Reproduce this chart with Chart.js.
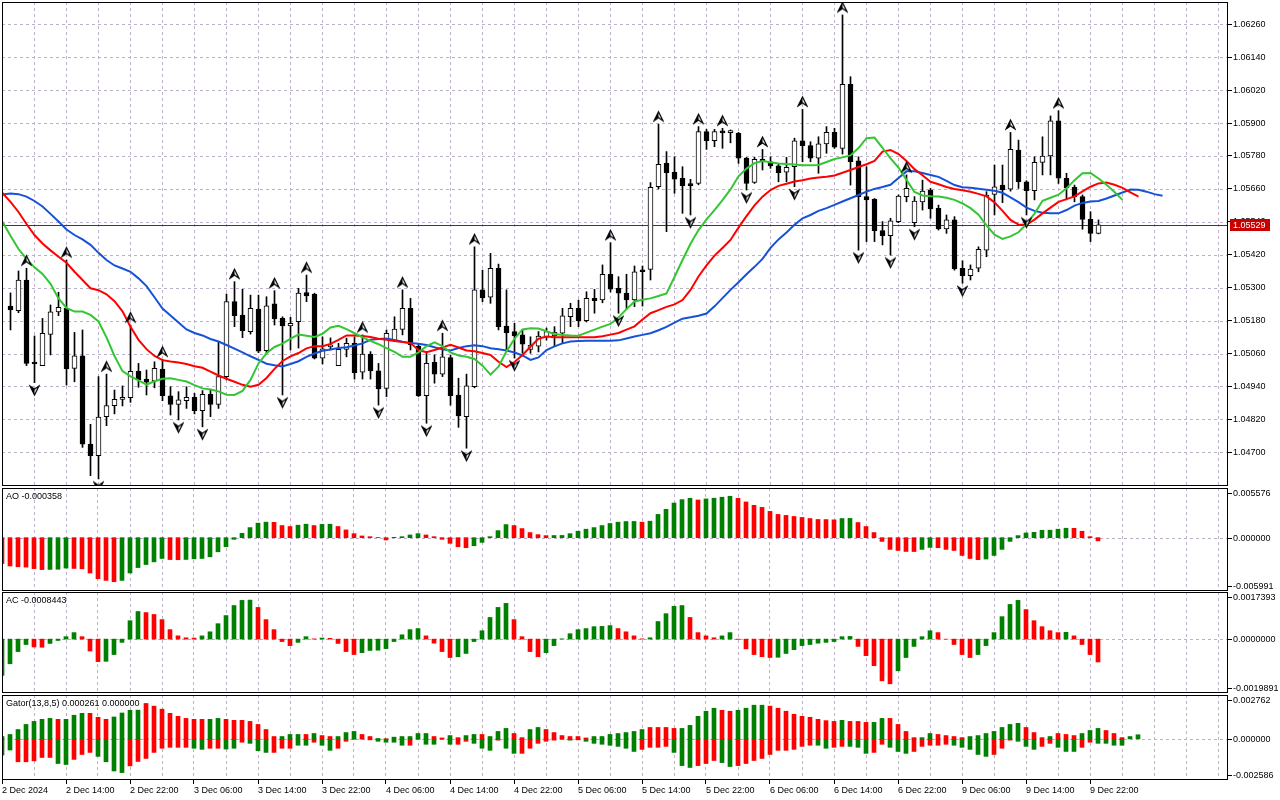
<!DOCTYPE html>
<html>
<head>
<meta charset="utf-8">
<title>EURUSD H1 - Alligator, Fractals, AO, AC, Gator</title>
<script src="https://cdn.jsdelivr.net/npm/chart.js@4.4.1/dist/chart.umd.min.js"></script>
<style>
  html, body { margin:0; padding:0; background:#ffffff; }
  body { width:1280px; height:800px; position:relative; overflow:hidden; }
  .pane { position:absolute; left:0; width:1280px; }
  .pane canvas { display:block; }
</style>
</head>
<body>
<div class="pane" style="top:2px;height:484px"><canvas id="mainChart"></canvas></div>
<div class="pane" style="top:488px;height:103px"><canvas id="aoChart"></canvas></div>
<div class="pane" style="top:592px;height:101px"><canvas id="acChart"></canvas></div>
<div class="pane" style="top:695px;height:105px"><canvas id="gatorChart"></canvas></div>
<script>
// ---------------- DATA ----------------
// H1 bars; bar 0 = 2 Dec 06:00. Candles visible from bar 1.
const FIRST_CANDLE_BAR = 1;
const opens = [1.05233,1.05216,1.05328,1.05026,1.05016,1.05130,1.05212,1.05225,1.05006,1.05052,
1.04730,1.04688,1.04830,1.04870,1.04893,1.04899,1.04995,1.04967,1.04960,1.05003,
1.04906,1.04875,1.04888,1.04900,1.04852,1.04911,1.04875,1.04976,1.05249,1.05200,
1.05140,1.05222,1.05070,1.05241,1.05188,1.05161,1.05176,1.05282,1.05277,1.05043,
1.05084,1.05016,1.05075,1.05097,1.04992,1.05058,1.04997,1.04933,1.05107,1.05148,
1.05225,1.05087,1.04906,1.05028,1.04985,1.05045,1.04909,1.04830,1.04939,1.05292,
1.05265,1.05371,1.05160,1.05140,1.05128,1.05075,1.05087,1.05121,1.05124,1.05134,
1.05194,1.05225,1.05180,1.05261,1.05255,1.05349,1.05298,1.05280,1.05255,1.05364,
1.05367,1.05668,1.05753,1.05721,1.05699,1.05677,1.05680,1.05869,1.05836,1.05865,
1.05865,1.05863,1.05772,1.05684,1.05768,1.05759,1.05744,1.05721,1.05741,1.05835,
1.05818,1.05772,1.05824,1.05866,1.05808,1.06041,1.05762,1.05632,1.05623,1.05508,
1.05490,1.05541,1.05632,1.05537,1.05613,1.05656,1.05589,1.05514,1.05547,1.05371,
1.05344,1.05371,1.05437,1.05640,1.05674,1.05659,1.05802,1.05686,1.05654,1.05757,
1.05780,1.05908,1.05699,1.05666,1.05632,1.05549,1.05498];
const highs = [1.05281,1.05361,1.05371,1.05124,1.05188,1.05237,1.05283,1.05401,1.05137,1.05146,
1.04802,1.04976,1.04985,1.04927,1.04942,1.05164,1.05024,1.05000,1.05030,1.05039,
1.04939,1.04921,1.04939,1.04915,1.04925,1.04930,1.05103,1.05277,1.05322,1.05294,
1.05273,1.05273,1.05267,1.05289,1.05194,1.05192,1.05298,1.05346,1.05280,1.05121,
1.05117,1.05097,1.05116,1.05121,1.05128,1.05067,1.05024,1.05146,1.05194,1.05292,
1.05261,1.05097,1.05067,1.05055,1.05134,1.05055,1.04970,1.04985,1.05449,1.05364,
1.05425,1.05386,1.05292,1.05170,1.05146,1.05121,1.05140,1.05153,1.05158,1.05225,
1.05243,1.05255,1.05285,1.05294,1.05383,1.05464,1.05340,1.05349,1.05379,1.05379,
1.05683,1.05896,1.05796,1.05777,1.05741,1.05695,1.05887,1.05877,1.05877,1.05881,
1.05875,1.05866,1.05775,1.05775,1.05804,1.05777,1.05753,1.05775,1.05845,1.05950,
1.05832,1.05850,1.05887,1.05881,1.06294,1.06069,1.05777,1.05741,1.05625,1.05541,
1.05553,1.05638,1.05711,1.05632,1.05692,1.05662,1.05601,1.05565,1.05559,1.05398,
1.05383,1.05449,1.05650,1.05747,1.05747,1.05866,1.05838,1.05690,1.05777,1.05850,
1.05926,1.05945,1.05717,1.05674,1.05638,1.05577,1.05547];
const lows = [1.05146,1.05209,1.05016,1.04954,1.05016,1.05055,1.05198,1.04945,1.04957,1.04718,
1.04615,1.04603,1.04797,1.04840,1.04869,1.04882,1.04937,1.04909,1.04935,1.04888,
1.04836,1.04818,1.04860,1.04840,1.04793,1.04830,1.04860,1.04964,1.05158,1.05118,
1.05131,1.05063,1.05061,1.05164,1.04909,1.05073,1.05080,1.05249,1.05040,1.05022,
1.05073,1.05016,1.05048,1.04967,1.04967,1.04967,1.04872,1.04903,1.05103,1.05128,
1.05073,1.04903,1.04806,1.04952,1.04976,1.04872,1.04791,1.04715,1.04935,1.05249,
1.05243,1.05146,1.05073,1.05044,1.05061,1.05061,1.05066,1.05109,1.05085,1.05097,
1.05158,1.05158,1.05175,1.05207,1.05245,1.05284,1.05207,1.05221,1.05231,1.05233,
1.05328,1.05660,1.05504,1.05644,1.05571,1.05565,1.05675,1.05804,1.05814,1.05808,
1.05828,1.05753,1.05656,1.05680,1.05729,1.05735,1.05686,1.05686,1.05668,1.05759,
1.05759,1.05717,1.05790,1.05808,1.05787,1.05674,1.05437,1.05468,1.05468,1.05456,
1.05419,1.05537,1.05613,1.05522,1.05583,1.05553,1.05510,1.05498,1.05364,1.05316,
1.05328,1.05358,1.05413,1.05565,1.05610,1.05652,1.05662,1.05565,1.05620,1.05711,
1.05711,1.05680,1.05620,1.05613,1.05513,1.05468,1.05496];
const closes = [1.05219,1.05328,1.05024,1.05022,1.05134,1.05212,1.05228,1.05004,1.05052,1.04730,
1.04688,1.04828,1.04870,1.04893,1.04900,1.04995,1.04964,1.04956,1.05006,1.04906,
1.04875,1.04891,1.04900,1.04852,1.04911,1.04875,1.04976,1.05249,1.05198,1.05143,
1.05225,1.05069,1.05234,1.05186,1.05161,1.05170,1.05280,1.05270,1.05043,1.05077,
1.05091,1.05075,1.05097,1.04990,1.05058,1.04997,1.04931,1.05134,1.05149,1.05225,
1.05091,1.04906,1.05024,1.04985,1.05048,1.04906,1.04833,1.04942,1.05292,1.05263,
1.05371,1.05158,1.05136,1.05124,1.05094,1.05091,1.05124,1.05140,1.05138,1.05197,
1.05225,1.05180,1.05261,1.05253,1.05349,1.05295,1.05280,1.05255,1.05358,1.05358,
1.05666,1.05750,1.05719,1.05696,1.05672,1.05672,1.05869,1.05836,1.05869,1.05864,
1.05867,1.05772,1.05680,1.05768,1.05759,1.05744,1.05719,1.05739,1.05835,1.05818,
1.05772,1.05824,1.05866,1.05812,1.06041,1.05759,1.05632,1.05620,1.05508,1.05490,
1.05544,1.05634,1.05662,1.05616,1.05652,1.05587,1.05514,1.05547,1.05368,1.05344,
1.05368,1.05440,1.05638,1.05668,1.05656,1.05804,1.05686,1.05654,1.05757,1.05780,
1.05908,1.05699,1.05664,1.05632,1.05549,1.05498,1.05529];
const lastPrice = 1.05529;

// Alligator (already shifted forward), starting at bar 0
const jaw = [1.05640,1.05643,1.05641,1.05632,1.05616,1.05596,1.05569,1.05541,1.05512,1.05492,
1.05476,1.05456,1.05427,1.05401,1.05381,1.05370,1.05358,1.05334,1.05306,1.05265,
1.05224,1.05199,1.05173,1.05148,1.05135,1.05126,1.05113,1.05104,1.05091,1.05078,
1.05064,1.05050,1.05037,1.05023,1.05017,1.05013,1.05022,1.05032,1.05048,1.05060,
1.05070,1.05075,1.05080,1.05083,1.05089,1.05097,1.05110,1.05113,1.05115,1.05109,
1.05103,1.05098,1.05096,1.05091,1.05083,1.05076,1.05071,1.05080,1.05087,1.05090,
1.05087,1.05079,1.05076,1.05071,1.05064,1.05053,1.05037,1.05046,1.05073,1.05086,
1.05097,1.05104,1.05106,1.05107,1.05107,1.05107,1.05107,1.05108,1.05115,1.05122,
1.05128,1.05134,1.05145,1.05157,1.05173,1.05187,1.05192,1.05198,1.05206,1.05232,
1.05262,1.05292,1.05320,1.05349,1.05376,1.05405,1.05445,1.05476,1.05501,1.05529,
1.05553,1.05565,1.05580,1.05590,1.05602,1.05614,1.05626,1.05638,1.05650,1.05660,
1.05667,1.05675,1.05700,1.05724,1.05724,1.05718,1.05711,1.05704,1.05689,1.05674,
1.05666,1.05664,1.05661,1.05657,1.05653,1.05646,1.05629,1.05612,1.05592,1.05580,
1.05573,1.05571,1.05571,1.05583,1.05599,1.05609,1.05614,1.05616,1.05625,1.05636,
1.05647,1.05658,1.05657,1.05650,1.05641,1.05635];
const teeth = [1.05645,1.05613,1.05576,1.05532,1.05492,1.05461,1.05436,1.05413,1.05391,1.05358,
1.05328,1.05298,1.05291,1.05276,1.05251,1.05214,1.05158,1.05110,1.05076,1.05051,
1.05036,1.05031,1.05027,1.05022,1.05014,1.05008,1.04994,1.04980,1.04968,1.04957,
1.04946,1.04939,1.04946,1.04971,1.05004,1.05033,1.05050,1.05062,1.05079,1.05087,
1.05087,1.05095,1.05110,1.05126,1.05126,1.05124,1.05120,1.05114,1.05110,1.05106,
1.05102,1.05098,1.05073,1.05065,1.05073,1.05082,1.05092,1.05082,1.05071,1.05068,
1.05062,1.05055,1.05030,1.05011,1.05029,1.05055,1.05085,1.05114,1.05122,1.05119,
1.05119,1.05119,1.05119,1.05119,1.05119,1.05123,1.05129,1.05135,1.05147,1.05159,
1.05184,1.05207,1.05218,1.05230,1.05239,1.05255,1.05292,1.05341,1.05381,1.05417,
1.05445,1.05474,1.05519,1.05561,1.05600,1.05632,1.05656,1.05671,1.05679,1.05687,
1.05692,1.05698,1.05702,1.05704,1.05709,1.05719,1.05729,1.05740,1.05750,1.05762,
1.05796,1.05802,1.05787,1.05762,1.05732,1.05710,1.05686,1.05677,1.05667,1.05660,
1.05655,1.05650,1.05642,1.05633,1.05611,1.05580,1.05547,1.05530,1.05529,1.05548,
1.05571,1.05592,1.05613,1.05623,1.05633,1.05651,1.05668,1.05680,1.05683,1.05675,
1.05664,1.05647,1.05632];
const lips = [1.05540,1.05489,1.05441,1.05405,1.05374,1.05350,1.05314,1.05261,1.05226,1.05213,
1.05213,1.05201,1.05177,1.05119,1.05051,1.04996,1.04977,1.04962,1.04947,1.04959,
1.04968,1.04970,1.04964,1.04958,1.04945,1.04933,1.04929,1.04922,1.04910,1.04909,
1.04924,1.04964,1.05024,1.05061,1.05084,1.05096,1.05114,1.05129,1.05125,1.05120,
1.05132,1.05155,1.05161,1.05149,1.05134,1.05119,1.05106,1.05094,1.05080,1.05066,
1.05048,1.05048,1.05064,1.05087,1.05101,1.05087,1.05064,1.05053,1.05048,1.05040,
1.05016,1.04983,1.05012,1.05068,1.05114,1.05148,1.05152,1.05151,1.05141,1.05131,
1.05128,1.05126,1.05125,1.05136,1.05147,1.05158,1.05168,1.05192,1.05222,1.05250,
1.05256,1.05261,1.05270,1.05279,1.05339,1.05401,1.05460,1.05510,1.05549,1.05583,
1.05619,1.05658,1.05706,1.05734,1.05754,1.05762,1.05757,1.05753,1.05751,1.05749,
1.05746,1.05746,1.05747,1.05758,1.05769,1.05775,1.05782,1.05809,1.05845,1.05847,
1.05810,1.05771,1.05738,1.05693,1.05649,1.05636,1.05633,1.05632,1.05628,1.05620,
1.05607,1.05590,1.05566,1.05527,1.05493,1.05478,1.05487,1.05502,1.05532,1.05570,
1.05617,1.05628,1.05639,1.05662,1.05692,1.05717,1.05718,1.05698,1.05675,1.05649,
1.05620];

// Fractal bars
const upFractals = [3,8,13,16,20,29,34,38,45,50,55,59,76,82,87,90,95,100,105,113,126,132];
const downFractals = [4,12,22,25,35,47,53,58,64,77,86,93,99,107,111,114,120,128];

// Awesome Oscillator, bar 0..137
const ao = [-0.00291,-0.00318,-0.00327,-0.00331,-0.00348,-0.00359,-0.00357,-0.00355,-0.00342,-0.00346,
-0.00350,-0.00397,-0.00461,-0.00480,-0.00495,-0.00480,-0.00397,-0.00336,-0.00302,-0.00272,
-0.00234,-0.00246,-0.00248,-0.00245,-0.00238,-0.00234,-0.00215,-0.00159,-0.00102,-0.00019,
0.00049,0.00113,0.00163,0.00174,0.00172,0.00136,0.00125,0.00140,0.00151,0.00136,
0.00149,0.00151,0.00125,0.00087,0.00045,0.00019,0.00011,0.00002,-0.00026,0.00004,
0.00011,0.00030,0.00045,0.00030,0.00011,-0.00019,-0.00064,-0.00102,-0.00113,-0.00091,
-0.00053,0.00011,0.00079,0.00147,0.00136,0.00102,0.00057,0.00034,0.00023,0.00024,
0.00025,0.00045,0.00072,0.00095,0.00113,0.00136,0.00159,0.00174,0.00181,0.00182,
0.00174,0.00185,0.00261,0.00318,0.00389,0.00427,0.00442,0.00423,0.00435,0.00443,
0.00454,0.00465,0.00442,0.00401,0.00363,0.00340,0.00295,0.00261,0.00250,0.00238,
0.00227,0.00215,0.00204,0.00203,0.00200,0.00215,0.00216,0.00170,0.00125,0.00057,
-0.00042,-0.00132,-0.00144,-0.00155,-0.00156,-0.00132,-0.00110,-0.00113,-0.00132,-0.00144,
-0.00200,-0.00234,-0.00247,-0.00240,-0.00200,-0.00132,-0.00042,0.00023,0.00053,0.00060,
0.00083,0.00084,0.00095,0.00106,0.00105,0.00072,0.00011,-0.000358];

// Accelerator Oscillator, bar 0..137
const ac = [-0.00134,-0.00091,-0.00046,-0.00020,-0.00029,-0.00030,-0.00016,-0.00005,0.00009,0.00024,
0.00009,-0.00044,-0.00083,-0.00082,-0.00057,-0.00012,0.00068,0.00102,0.00098,0.00091,
0.00072,0.00035,0.00012,0.00005,0.00004,0.00012,0.00027,0.00057,0.00087,0.00124,
0.00143,0.00144,0.00117,0.00072,0.00035,-0.00009,-0.00024,-0.00012,0.00009,0.00001,
0.00004,0.00003,-0.00016,-0.00046,-0.00057,-0.00050,-0.00042,-0.00041,-0.00035,-0.00009,
0.00016,0.00035,0.00039,0.00012,-0.00015,-0.00046,-0.00068,-0.00065,-0.00053,-0.00009,
0.00031,0.00080,0.00117,0.00132,0.00072,0.00009,-0.00046,-0.00065,-0.00050,-0.00024,
0.00001,0.00020,0.00035,0.00039,0.00046,0.00047,0.00050,0.00039,0.00027,0.00012,
0.00001,0.00005,0.00065,0.00094,0.00121,0.00124,0.00080,0.00024,0.00012,0.00005,
0.00012,0.00024,-0.00001,-0.00036,-0.00057,-0.00065,-0.00068,-0.00067,-0.00053,-0.00039,
-0.00024,-0.00020,-0.00015,-0.00012,-0.00009,0.00009,0.00010,-0.00027,-0.00061,-0.00098,
-0.00154,-0.00165,-0.00117,-0.00068,-0.00027,0.00009,0.00031,0.00024,0.00000,-0.00020,
-0.00057,-0.00068,-0.00057,-0.00024,0.00024,0.00083,0.00128,0.00143,0.00109,0.00068,
0.00046,0.00031,0.00024,0.00025,0.00012,-0.00020,-0.00057,-0.0008443];

// Gator Oscillator, upper bars 0..142, lower bars 0..140, with their rising(G)/falling(R) state
const gatorUpper = [0.00015,0.00028,0.00059,0.00091,0.00110,0.00123,0.00129,0.00123,0.00123,0.00149,
0.00161,0.00161,0.00136,0.00123,0.00138,0.00163,0.00180,0.00181,0.00223,0.00206,
0.00187,0.00161,0.00142,0.00129,0.00123,0.00123,0.00123,0.00129,0.00123,0.00117,
0.00117,0.00110,0.00091,0.00059,0.00015,0.00015,0.00028,0.00028,0.00028,0.00034,
0.00021,0.00015,0.00015,0.00040,0.00047,0.00028,0.00015,0.00002,0.00000,0.00011,
0.00015,0.00015,0.00034,0.00034,0.00015,0.00006,0.00021,0.00008,0.00021,0.00028,
0.00028,0.00015,0.00047,0.00066,0.00034,0.00008,0.00059,0.00072,0.00059,0.00040,
0.00021,0.00015,0.00015,0.00006,0.00015,0.00015,0.00028,0.00034,0.00040,0.00047,
0.00059,0.00072,0.00072,0.00072,0.00066,0.00066,0.00085,0.00142,0.00174,0.00193,
0.00180,0.00174,0.00180,0.00193,0.00212,0.00212,0.00206,0.00193,0.00174,0.00155,
0.00142,0.00136,0.00123,0.00115,0.00110,0.00117,0.00110,0.00110,0.00104,0.00104,
0.00129,0.00129,0.00091,0.00047,0.00008,0.00008,0.00034,0.00028,0.00021,0.00015,
0.00008,0.00015,0.00021,0.00034,0.00047,0.00072,0.00091,0.00098,0.00072,0.00040,
0.00008,0.00015,0.00034,0.00028,0.00021,0.00034,0.00053,0.00066,0.00053,0.00034,
0.00008,0.00015,0.000261];
const gatorUpperTrend =
 'GGGGGGGRGG' + 'GRRRGGGGRR' + 'RRRRRRGGRR' + 'RRRRRGGGRG' + 'RRGGGRRGRG' +
 'GGGGRRGRGG' + 'RGGGRRGGRR' + 'RRRRGGGGGG' + 'GRRRRGGGGG' + 'RRGGGGRRRR' +
 'RRRRRGRRRG' + 'GRRRRGGRRR' + 'RGGGGGGGRR' + 'RGRRRGGGRR' + 'RGG';
const gatorLower = [-0.00102,-0.00070,-0.00144,-0.00144,-0.00138,-0.00117,-0.00117,-0.00155,-0.00161,-0.00129,
-0.00098,-0.00085,-0.00110,-0.00144,-0.00202,-0.00212,-0.00170,-0.00142,-0.00123,-0.00085,
-0.00059,-0.00053,-0.00053,-0.00053,-0.00059,-0.00066,-0.00059,-0.00059,-0.00064,-0.00059,
-0.00021,-0.00028,-0.00074,-0.00085,-0.00085,-0.00059,-0.00059,-0.00040,-0.00040,-0.00021,
-0.00040,-0.00072,-0.00059,-0.00015,-0.00002,-0.00001,-0.00006,-0.00015,-0.00021,-0.00021,
-0.00040,-0.00040,-0.00002,-0.00034,-0.00034,-0.00002,-0.00034,-0.00034,-0.00015,-0.00028,
-0.00059,-0.00072,-0.00008,-0.00059,-0.00091,-0.00091,-0.00059,-0.00028,-0.00015,-0.00008,
-0.00002,-0.00008,-0.00006,-0.00015,-0.00028,-0.00034,-0.00040,-0.00047,-0.00059,-0.00079,
-0.00066,-0.00053,-0.00053,-0.00047,-0.00085,-0.00168,-0.00180,-0.00168,-0.00155,-0.00136,
-0.00149,-0.00174,-0.00168,-0.00155,-0.00136,-0.00123,-0.00098,-0.00072,-0.00072,-0.00066,
-0.00047,-0.00040,-0.00040,-0.00059,-0.00053,-0.00047,-0.00047,-0.00053,-0.00091,-0.00085,
-0.00034,-0.00053,-0.00079,-0.00091,-0.00079,-0.00047,-0.00040,-0.00040,-0.00034,-0.00040,
-0.00053,-0.00066,-0.00098,-0.00110,-0.00098,-0.00059,-0.00008,-0.00015,-0.00047,-0.00066,
-0.00047,-0.00028,-0.00053,-0.00079,-0.00079,-0.00053,-0.00021,-0.00028,-0.00028,-0.00040,
-0.00040];
const gatorLowerTrend =
 'GGRRRRRGGR' + 'RRGGGGRRRR' + 'RRRRGGRRGG' + 'RGGGRRRGGR' + 'GGRRRRRGGG' +
 'GRGGGRGRRG' + 'GGRGGRRRRR' + 'RGRGGGGGGG' + 'RRRRGGGRRR' + 'GGRRRRRRRR' +
 'RRGGRRGGGR' + 'RGGGRRRRRG' + 'GGGGRRRGGG' + 'RRGGGRRGGG' + 'G';

// Axes
const priceTicks = [1.04700,1.04820,1.04940,1.05060,1.05180,1.05300,1.05420,1.05540,1.05660,1.05780,1.05900,1.06020,1.06140,1.06260];
const aoRange = [-0.005991, 0.005576];
const acRange = [-0.0019891, 0.0017393];
const gatorRange = [-0.002586, 0.002762];
const timeTickBars = [0,8,16,24,32,40,48,56,64,72,80,88,96,104,112,120,128,136];
const timeLabels = ['2 Dec 2024','2 Dec 14:00','2 Dec 22:00','3 Dec 06:00','3 Dec 14:00','3 Dec 22:00',
 '4 Dec 06:00','4 Dec 14:00','4 Dec 22:00','5 Dec 06:00','5 Dec 14:00','5 Dec 22:00',
 '6 Dec 06:00','6 Dec 14:00','6 Dec 22:00','9 Dec 06:00','9 Dec 14:00','9 Dec 22:00'];

// ---------------- STYLE ----------------
const FONT_FAMILY = "'Liberation Sans', Arial, sans-serif";
const FONT = "9px " + FONT_FAMILY;
const GRID_COLOR = '#bcb1c6';
const UP_COLOR = '#008000';
const DOWN_COLOR = '#ff0000';
const JAW_COLOR = '#1652d8';
const TEETH_COLOR = '#ff0000';
const LIPS_COLOR = '#33c633';
const PRICE_COLOR = '#c80000';
const GRID_EVERY = 4;          // vertical grid every 4 bars
const X_SPAN = 153.25;         // visible bar span
const MAIN_X_MIN = -0.0625;    // half-pixel alignment of candle centres
const MAIN_Y = [1.045772, 1.063413];

Chart.defaults.font.family = FONT_FAMILY;
Chart.defaults.font.size = 9;
Chart.defaults.color = '#000';

function strokeLine(ctx, x1, y1, x2, y2) { ctx.beginPath(); ctx.moveTo(x1, y1); ctx.lineTo(x2, y2); ctx.stroke(); }
function noScalePadding(s) { s.paddingTop = 0; s.paddingBottom = 0; s.paddingLeft = 0; s.paddingRight = 0; }

const paneDecor = {
  id: 'paneDecor',
  beforeDatasetsDraw(chart, args, o) {
    const {ctx, chartArea: a, scales: {x, y}} = chart;
    ctx.save();
    ctx.beginPath(); ctx.rect(a.left, a.top, a.right - a.left, a.bottom - a.top); ctx.clip();
    ctx.lineWidth = 1; ctx.strokeStyle = GRID_COLOR; ctx.setLineDash([3, 3]);
    for (let k = 0; k <= x.max; k += GRID_EVERY) {
      const px = Math.floor(x.getPixelForValue(k)) + 0.5;
      if (px > a.left + 1 && px < a.right - 1) strokeLine(ctx, px, a.top, px, a.bottom);
    }
    (o.levels || []).forEach(v => {
      const py = Math.round(y.getPixelForValue(v)) + 0.5;
      strokeLine(ctx, a.left, py, a.right, py);
    });
    if (o.priceLine != null) {
      ctx.setLineDash([]); ctx.strokeStyle = PRICE_COLOR;
      const py = Math.round(y.getPixelForValue(o.priceLine)) + 0.5;
      strokeLine(ctx, a.left, py, a.right, py);
    }
    ctx.restore();
  },
  afterDraw(chart, args, o) {
    const {ctx, chartArea: a, scales: {y}} = chart;
    ctx.save();
    ctx.setLineDash([]); ctx.lineWidth = 1; ctx.strokeStyle = '#000';
    ctx.strokeRect(a.left + 0.5, a.top + 0.5, a.right - a.left - 1, a.bottom - a.top - 1);
    ctx.font = FONT; ctx.fillStyle = '#000'; ctx.textAlign = 'left'; ctx.textBaseline = 'middle';
    if (o.title) ctx.fillText(o.title, a.left + 4, a.top + 9);
    if (o.axisLabels) {
      const [lo, hi] = o.axisLabels.range, d = o.axisLabels.decimals;
      [[hi, a.top + 5], [0, y.getPixelForValue(0)], [lo, a.bottom - 5]].forEach(([v, py]) => {
        const ty = Math.round(py) + 0.5;
        strokeLine(ctx, a.right, ty, a.right + 4, ty);
        ctx.fillText(v.toFixed(d), a.right + 5, Math.round(py) + 0.5);
      });
    }
    if (o.priceBox != null) {
      const py = y.getPixelForValue(o.priceBox);
      const top = Math.round(py - 5.5);
      ctx.fillStyle = PRICE_COLOR;
      ctx.fillRect(a.right + 2, top, 40, 12);
      ctx.fillStyle = '#fff';
      ctx.fillText(o.priceBox.toFixed(5), a.right + 5, top + 6.5);
    }
    ctx.restore();
  }
};

function arrowImage(up) {
  const c = document.createElement('canvas');
  c.width = 11; c.height = 33;
  const g = c.getContext('2d');
  g.translate(5.5, up ? 8.5 : 24.5);
  g.scale(1, up ? 1 : -1);
  g.beginPath(); g.moveTo(0, -4.5); g.lineTo(4.5, 4.5); g.lineTo(0, 1.5); g.lineTo(-4.5, 4.5); g.closePath();
  g.fillStyle = '#dfe6f5'; g.fill();
  g.lineWidth = 1.2; g.strokeStyle = '#000'; g.stroke();
  g.beginPath(); g.moveTo(0, -4.5); g.lineTo(0, 1.5); g.lineTo(-4.5, 4.5); g.closePath();
  g.fillStyle = '#000'; g.fill();
  return c;
}

function trendColors(arr) {
  return arr.map((v, i) => {
    const rising = i === 0 ? arr[1] > arr[0] : v > arr[i - 1];
    return rising ? UP_COLOR : DOWN_COLOR;
  });
}
const flagColors = s => [...s].map(ch => ch === 'G' ? UP_COLOR : DOWN_COLOR);
const series = arr => arr.map((v, k) => ({x: k, y: v}));

const baseOptions = () => ({
  responsive: true, maintainAspectRatio: false, animation: false, devicePixelRatio: 1, events: [],
  layout: {autoPadding: false, padding: {left: 2, right: 0, top: 0, bottom: 0}},
  plugins: {legend: {display: false}, tooltip: {enabled: false}}
});

// ---------------- MAIN PRICE CHART ----------------
const candleBars = opens.map((_, i) => i + FIRST_CANDLE_BAR);
const mainOpts = baseOptions();
mainOpts.plugins.paneDecor = {levels: priceTicks, priceLine: lastPrice, priceBox: lastPrice};
mainOpts.scales = {
  x: {type: 'linear', min: MAIN_X_MIN, max: MAIN_X_MIN + X_SPAN, offset: false, display: false, grid: {offset: false}},
  y: {type: 'linear', position: 'right', min: MAIN_Y[0], max: MAIN_Y[1],
      afterBuildTicks: s => { s.ticks = priceTicks.map(v => ({value: v})); },
      afterFit: s => { s.width = 52; noScalePadding(s); },
      ticks: {callback: v => Number(v).toFixed(5), padding: 1, autoSkip: false, color: '#000'},
      grid: {drawOnChartArea: false, drawTicks: true, tickLength: 4, tickColor: '#000'},
      border: {display: false}}
};
new Chart(document.getElementById('mainChart'), {
  type: 'bar',
  data: {datasets: [
    {type: 'bar', data: candleBars.map((k, i) => ({x: k, y: [lows[i], highs[i]]})),
     backgroundColor: '#000', borderWidth: 0, barThickness: 1, grouped: false, order: 6},
    {type: 'bar', data: candleBars.map((k, i) => ({x: k, y: [opens[i], closes[i]]})),
     backgroundColor: closes.map((c, i) => c >= opens[i] ? '#ffffff' : '#000000'),
     borderColor: '#000', borderWidth: 1, borderSkipped: false, barThickness: 5, minBarLength: 2, grouped: false, order: 5},
    {type: 'line', data: series(jaw), borderColor: JAW_COLOR, borderWidth: 2, pointRadius: 0, tension: 0, order: 4},
    {type: 'line', data: series(teeth), borderColor: TEETH_COLOR, borderWidth: 2, pointRadius: 0, tension: 0, order: 3},
    {type: 'line', data: series(lips), borderColor: LIPS_COLOR, borderWidth: 2, pointRadius: 0, tension: 0, order: 2},
    {type: 'scatter', data: upFractals.map(k => ({x: k, y: highs[k - FIRST_CANDLE_BAR]})),
     pointStyle: arrowImage(true), pointRadius: 5, order: 1},
    {type: 'scatter', data: downFractals.map(k => ({x: k, y: lows[k - FIRST_CANDLE_BAR]})),
     pointStyle: arrowImage(false), pointRadius: 5, order: 1}
  ]},
  options: mainOpts,
  plugins: [paneDecor]
});

// ---------------- OSCILLATOR PANES ----------------
function oscillator(id, datasets, range, title, decimals, withTime) {
  const opts = baseOptions();
  opts.plugins.paneDecor = {levels: [0], title: title, axisLabels: {range: range, decimals: decimals}};
  const x = {type: 'linear', min: 0, max: X_SPAN, offset: false, display: false, grid: {offset: false}};
  if (withTime) Object.assign(x, {
    display: true, position: 'bottom',
    afterBuildTicks: s => { s.ticks = timeTickBars.map(v => ({value: v})); },
    afterFit: s => { s.height = 20; noScalePadding(s); },
    ticks: {callback: (v, i) => timeLabels[i], align: 'start', maxRotation: 0, minRotation: 0, autoSkip: false, padding: 1, color: '#000'},
    grid: {drawOnChartArea: false, drawTicks: true, tickLength: 4, tickColor: '#000', offset: false},
    border: {display: false}
  });
  opts.scales = {
    x: x,
    y: {type: 'linear', position: 'right', min: range[0], max: range[1], display: true,
        ticks: {display: false}, grid: {display: false}, border: {display: false},
        afterFit: s => { s.width = 52; noScalePadding(s); }}
  };
  return new Chart(document.getElementById(id), {type: 'bar', data: {datasets: datasets}, options: opts, plugins: [paneDecor]});
}
const histo = (arr, colors) => ({data: series(arr), backgroundColor: colors, borderWidth: 0, barThickness: 4, grouped: false});

oscillator('aoChart', [histo(ao, trendColors(ao))], aoRange, 'AO ' + ao[ao.length - 1].toFixed(6), 6, false);
oscillator('acChart', [histo(ac, trendColors(ac))], acRange, 'AC ' + ac[ac.length - 1].toFixed(7), 7, false);
oscillator('gatorChart',
  [histo(gatorUpper, flagColors(gatorUpperTrend)), histo(gatorLower, flagColors(gatorLowerTrend))],
  gatorRange,
  'Gator(13,8,5) ' + gatorUpper[gatorUpper.length - 1].toFixed(6) + ' ' + (gatorLower[gatorUpper.length - 1] || 0).toFixed(6),
  6, true);
</script>
</body>
</html>
